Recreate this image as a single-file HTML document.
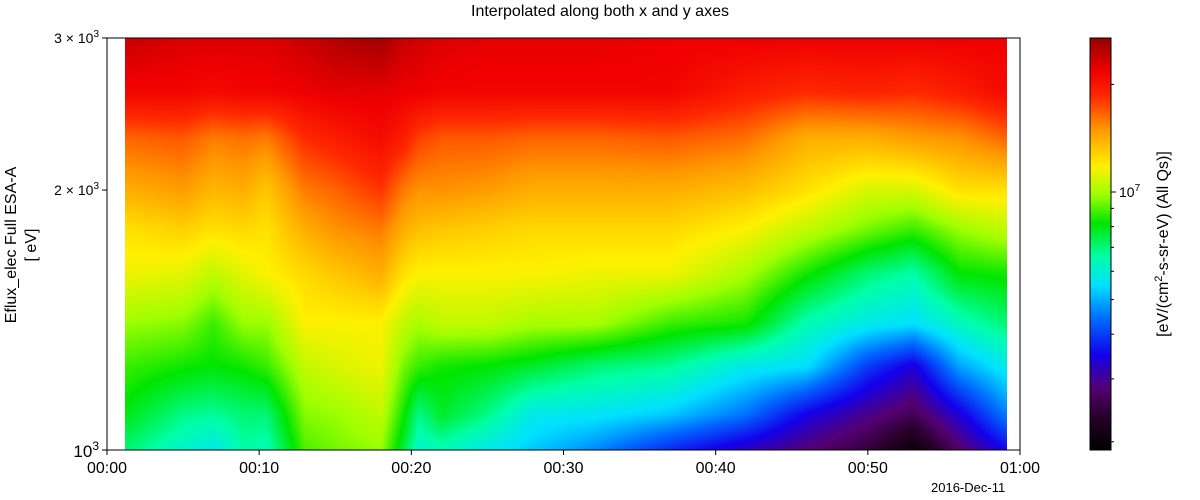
<!DOCTYPE html>
<html><head><meta charset="utf-8">
<style>
body{margin:0;background:#fff;width:1200px;height:500px;overflow:hidden;font-family:"Liberation Sans","DejaVu Sans",sans-serif;}
#root{position:relative;width:1200px;height:500px;}
.t{position:absolute;color:#000;white-space:nowrap;}
canvas{position:absolute;}
</style></head>
<body>
<div id="root">
<div class="t" style="left:0;width:1200px;text-align:center;top:3px;font-size:16px;">Interpolated along both x and y axes</div>
<canvas id="spec" width="882" height="412" style="left:125px;top:38px;"></canvas>
<canvas id="cbar" width="21" height="412" style="left:1090px;top:38px;"></canvas>
<svg id="axes" width="1200" height="500" style="position:absolute;left:0;top:0;"></svg>
<div class="t" style="left:22px;top:245px;transform:translate(-50%,-50%) rotate(-90deg);font-size:16px;text-align:center;line-height:20px;">Eflux_elec Full ESA-A<br>[ eV]</div>
<div class="t" style="left:1163px;top:244px;transform:translate(-50%,-50%) rotate(-90deg);font-size:16px;">[eV/(cm<sup style="font-size:11px">2</sup>-s-sr-eV) (All Qs)]</div>
<div class="t" style="left:931px;top:480px;font-size:13px;">2016-Dec-11</div>
</div>
<script>
// ---- data ----
const times = [1.3,5,7,9,10.5,13,15,18,19.5,20.5,22,25,28,32,37,42,46,50,53,56,59.1]; // minutes after 00:00
const energies = [1000,1100,1250,1400,1600,1800,2000,2300,2600,3000]; // eV
// log10 flux per energy row, across times
const e1000 = [6.85,6.79,6.76,6.82,6.81,6.95,6.97,6.99,6.88,6.79,6.81,6.76,6.72,6.67,6.58,6.51,6.45,6.39,6.30,6.44,6.55];
const e1100 = [6.90,6.84,6.83,6.85,6.85,6.98,6.99,7.02,6.92,6.84,6.89,6.84,6.76,6.75,6.72,6.65,6.54,6.47,6.42,6.53,6.66];
const e1250 = [6.94,6.92,6.91,6.92,6.94,7.02,7.04,7.06,6.97,6.94,6.92,6.91,6.89,6.85,6.83,6.76,6.74,6.60,6.53,6.69,6.76];
const e1400 = [6.99,6.98,6.94,6.99,6.99,7.07,7.07,7.07,7.02,7.00,7.02,7.02,7.00,7.00,6.94,6.92,6.81,6.76,6.74,6.80,6.85];
const e1600 = [7.06,7.05,7.02,7.05,7.07,7.10,7.12,7.15,7.09,7.07,7.07,7.07,7.07,7.06,7.06,7.00,6.92,6.85,6.82,6.91,6.92];
const e1800 = [7.09,7.11,7.09,7.10,7.09,7.15,7.18,7.20,7.15,7.13,7.12,7.11,7.10,7.10,7.10,7.07,7.02,6.97,6.94,6.99,7.02];
const e2000 = [7.15,7.17,7.14,7.15,7.12,7.20,7.22,7.26,7.20,7.18,7.18,7.17,7.15,7.15,7.15,7.13,7.09,7.04,7.04,7.09,7.09];
const e2300 = [7.22,7.23,7.20,7.21,7.20,7.27,7.29,7.32,7.29,7.25,7.23,7.23,7.22,7.22,7.23,7.21,7.15,7.15,7.17,7.18,7.22];
const e2600 = [7.33,7.33,7.32,7.33,7.33,7.34,7.35,7.35,7.34,7.34,7.33,7.33,7.33,7.33,7.33,7.29,7.27,7.28,7.27,7.29,7.32];
const e3000 = [7.38,7.36,7.36,7.36,7.36,7.38,7.40,7.42,7.38,7.37,7.36,7.35,7.35,7.35,7.34,7.34,7.34,7.34,7.34,7.34,7.34];
const rows = [e1000,e1100,e1250,e1400,e1600,e1800,e2000,e2300,e2600,e3000];
const xTickLabels = ["00:00","00:10","00:20","00:30","00:40","00:50","01:00"];
const xTickValues = [0,10,20,30,40,50,60];
const yTickValues = [1000,2000,3000];
const yTickLabels = [["10","3"],["2 × 10","3"],["3 × 10","3"]];
const cbMinorTicks = [2e6,3e6,4e6,5e6,6e6,7e6,8e6,9e6,2e7];
const cbMajorTicks = [1e7];
const vmin = 6.278, vmax = 7.431;

// ---- axes ----
const PX0=107, PX1=1020, PY0=38, PY1=450;
const X0=0, X1=60, Ymin=1000, Ymax=3000;
function xs(t){return PX0+(t-X0)/(X1-X0)*(PX1-PX0);}
function ys(e){return PY1-Math.log(e/Ymin)/Math.log(Ymax/Ymin)*(PY1-PY0);}
function cbY(f){return PY1-(Math.log10(f)-vmin)/(vmax-vmin)*(PY1-PY0);}

const stops=[[0,0,0,0],[0.08,40,0,40],[0.15,85,0,115],[0.23,20,0,235],[0.32,0,110,255],[0.40,0,225,255],[0.47,0,255,170],[0.55,0,230,0],[0.62,160,255,0],[0.69,255,240,0],[0.78,255,150,0],[0.86,255,40,0],[0.92,240,0,0],[1,150,0,0]];
function cmap(f){f=Math.max(0,Math.min(1,f));
  for(let i=1;i<stops.length;i++){if(f<=stops[i][0]){const a=stops[i-1],b=stops[i],u=(f-a[0])/(b[0]-a[0]);
    return [a[1]+(b[1]-a[1])*u,a[2]+(b[2]-a[2])*u,a[3]+(b[3]-a[3])*u];}}
  return [150,0,0];}

// heatmap
const cv=document.getElementById('spec');const ctx=cv.getContext('2d');
const W=cv.width,H=cv.height;const img=ctx.createImageData(W,H);
const le=energies.map(e=>Math.log(e));
for(let px=0;px<W;px++){
  const X=125+px+0.5;const t=X0+(X-PX0)/(PX1-PX0)*(X1-X0);
  let i=0;while(i<times.length-2&&t>times[i+1])i++;
  let u=(t-times[i])/(times[i+1]-times[i]);u=Math.max(0,Math.min(1,u));
  for(let py=0;py<H;py++){
    const Y=PY0+py+0.5;const l=Math.log(Ymin)+(PY1-Y)/(PY1-PY0)*Math.log(Ymax/Ymin);
    let j=0;while(j<le.length-2&&l>le[j+1])j++;
    let v=(l-le[j])/(le[j+1]-le[j]);v=Math.max(0,Math.min(1,v));
    const a=rows[j][i]*(1-u)+rows[j][i+1]*u,b=rows[j+1][i]*(1-u)+rows[j+1][i+1]*u;
    const val=a*(1-v)+b*v;const c=cmap((val-vmin)/(vmax-vmin));
    const k=(py*W+px)*4;img.data[k]=c[0];img.data[k+1]=c[1];img.data[k+2]=c[2];img.data[k+3]=255;}
}
ctx.putImageData(img,0,0);

// colorbar
const cb=document.getElementById('cbar');const cc=cb.getContext('2d');
for(let py=0;py<cb.height;py++){const c=cmap(1-(py+0.5)/cb.height);cc.fillStyle=`rgb(${c[0]|0},${c[1]|0},${c[2]|0})`;cc.fillRect(0,py,cb.width,1);}

const svg=document.getElementById('axes');const NS='http://www.w3.org/2000/svg';
function mk(tag,attrs){const e=document.createElementNS(NS,tag);for(const k in attrs)e.setAttribute(k,attrs[k]);svg.appendChild(e);return e;}
const frame=mk('rect',{x:PX0,y:PY0,width:PX1-PX0,height:PY1-PY0,fill:'none',stroke:'#000','stroke-width':1});


const cframe=mk('rect',{x:1090,y:PY0,width:21,height:PY1-PY0,fill:'none',stroke:'#000','stroke-width':1});


xTickValues.forEach((t,i)=>{
  const x=xs(t);
  const tk=mk('line',{x1:x,x2:x,y1:PY1,y2:PY1+5,stroke:'#000'});
  
  
  const tx=mk('text',{x:x,y:473,'text-anchor':'middle','font-size':16,'font-family':'Liberation Sans, sans-serif'});
  tx.textContent=xTickLabels[i];
  
  
});
yTickValues.forEach((e,i)=>{
  const y=ys(e);
  const tk=mk('line',{x1:PX0-5,x2:PX0,y1:y,y2:y,stroke:'#000'});
  
  
  const big=i===0;
  const tx=mk('text',{x:PX0-8,y:y+(big?7:5),'text-anchor':'end','font-size':big?17:14,'font-family':'Liberation Sans, sans-serif'});
  
  
  const t1=document.createElementNS(NS,'tspan');t1.textContent=yTickLabels[i][0];tx.appendChild(t1);
  const t2=document.createElementNS(NS,'tspan');t2.setAttribute('dy',big?-7:-6);t2.setAttribute('font-size',big?12:10);t2.textContent=yTickLabels[i][1];tx.appendChild(t2);
});
cbMinorTicks.forEach(f=>{const y=cbY(f);
  const tk=mk('line',{x1:1111,x2:1114,y1:y,y2:y,stroke:'#000'});
  
  });
cbMajorTicks.forEach(f=>{const y=cbY(f);
  const tk=mk('line',{x1:1111,x2:1116,y1:y,y2:y,stroke:'#000'});
  
  
  const tx=mk('text',{x:1119,y:y+5,'font-size':14,'font-family':'Liberation Sans, sans-serif'});
  
  
  const a=document.createElementNS(NS,'tspan');a.textContent='10';tx.appendChild(a);
  const b=document.createElementNS(NS,'tspan');b.setAttribute('dy',-6);b.setAttribute('font-size',10);b.textContent=String(Math.round(Math.log10(f)));tx.appendChild(b);
});
</script>
</body></html>
